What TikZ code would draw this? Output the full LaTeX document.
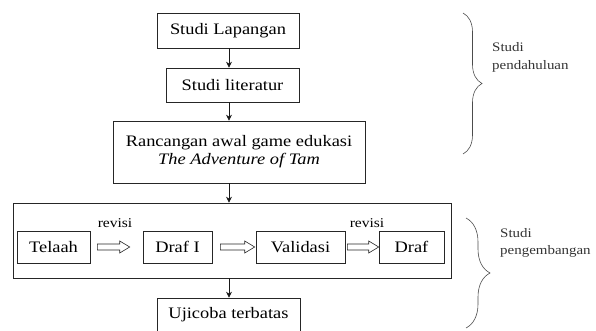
\documentclass[tikz,border=0pt]{standalone}
\usepackage{fontspec}
\setmainfont{Liberation Serif}[FakeStretch=1.15]
\usetikzlibrary{arrows.meta,calc,decorations.pathreplacing}
\tikzset{
  mainbox/.style={draw=black!85, line width=0.6pt, inner sep=0pt, align=center,
    font=\fontsize{16}{19}\selectfont},
  conn/.style={draw=black!90, line width=0.6pt, -{Stealth[length=6pt,width=6pt]}},
  bracelabel/.style={anchor=west, align=left, inner sep=0pt, text=black!80,
    font=\fontsize{13}{17.5}\selectfont},
  revlabel/.style={inner sep=0pt, anchor=base, font=\fontsize{13.5}{15}\selectfont},
  curly/.style={draw=black!70, line width=0.6pt, decorate,
    decoration={brace, amplitude=#1}}
}
% #1 from node, #2 to node, #3 start gap, #4 tip gap
\newcommand{\blockarr}[4]{%
  \draw[line width=0.6pt, draw=black!85] let \p1=($(#1.east)+(#3,0)$), \p2=($(#2.west)+(-#4,0)$) in
  (\x1,{\y1+3pt}) -- ({\x2-10pt},{\y1+3pt}) -- ({\x2-10pt},{\y1+6pt}) -- (\x2,\y1)
  -- ({\x2-10pt},{\y1-6pt}) -- ({\x2-10pt},{\y1-3pt}) -- (\x1,{\y1-3pt}) -- cycle;}
\begin{document}
\begin{tikzpicture}[x=1pt,y=-1pt]
\useasboundingbox (0,0) rectangle (596,331);
% main column
\node[mainbox, minimum width=142pt, minimum height=35pt] (b1) at (228,30.5) {Studi Lapangan};
\node[mainbox, minimum width=133pt, minimum height=34pt] (b2) at (232.5,85) {Studi literatur};
\node[mainbox, minimum width=252pt, minimum height=62pt] (b3) at (239,152)
  {Rancangan awal game edukasi\\[-1pt] \textit{The Adventure of Tam}};
\node[draw=black!85, line width=0.6pt, minimum width=438pt, minimum height=75pt, inner sep=0pt] (outer) at (232,240.5) {};
\node[mainbox, minimum width=73pt, minimum height=32pt] (telaah) at (53.5,247) {Telaah};
\node[mainbox, minimum width=69pt, minimum height=32pt] (drafi) at (177.5,247) {Draf I};
\node[mainbox, minimum width=89pt, minimum height=32pt] (valid) at (300.5,247) {Validasi};
\node[mainbox, minimum width=65pt, minimum height=32pt] (draf) at (411.5,247) {Draf};
\node[mainbox, minimum width=143pt, minimum height=33pt] (uji) at (228.5,314.5) {Ujicoba terbatas};
% connectors
\coordinate (ax) at (229,0);
\draw[conn] (b1.south -| ax) -- (b2.north -| ax);
\draw[conn] (b2.south -| ax) -- (b3.north -| ax);
\draw[conn] (b3.south -| ax) -- (outer.north -| ax);
\draw[conn] (outer.south -| ax) -- (uji.north -| ax);
% block arrows
\blockarr{telaah}{drafi}{7}{13}
\blockarr{drafi}{valid}{8}{1}
\blockarr{valid}{draf}{2}{0}
\node[revlabel] (rev1) at (115,227) {revisi};
\node[revlabel] (rev2) at (367,227) {revisi};
% braces
\coordinate (br1a) at (463,13);
\coordinate (br1b) at (463,154);
\draw[curly=19pt] (br1a) -- (br1b);
\node[bracelabel] (lab1) at (492,57.5) {Studi\\pendahuluan};
\coordinate (br2a) at (466,218);
\coordinate (br2b) at (466,328);
\draw[curly=24pt] (br2a) -- (br2b);
\node[bracelabel] (lab2) at (500,243) {Studi\\pengembangan};
\end{tikzpicture}
\end{document}
